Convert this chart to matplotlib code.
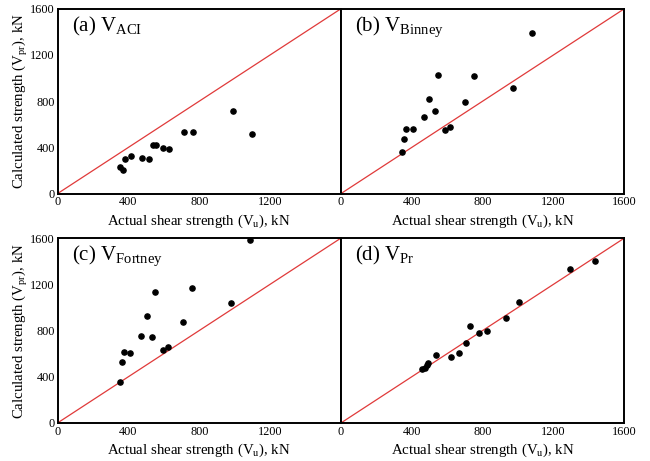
import matplotlib
matplotlib.use("Agg")
import matplotlib.pyplot as plt

plt.rcParams["font.family"] = ["Liberation Serif", "DejaVu Serif"]
plt.rcParams["mathtext.fontset"] = "custom"
plt.rcParams["mathtext.rm"] = "Liberation Serif"
plt.rcParams["mathtext.it"] = "Liberation Serif:italic"

# values (kN)
vu_aci = [353, 368, 382, 416, 479, 515, 541, 557, 598, 630, 716, 767, 989, 1096]
v_aci = [231, 208, 298, 324, 312, 298, 417, 417, 393, 388, 535, 535, 715, 515]

vu_binney = [347, 358, 370, 405, 467, 499, 533, 548, 589, 617, 703, 754, 972, 1080]
v_binney = [362, 475, 558, 558, 663, 816, 712, 1030, 553, 573, 790, 1021, 911, 1389]

vu_fortney = [350, 365, 374, 410, 470, 506, 536, 551, 594, 622, 707, 760, 978, 1087]
v_fortney = [352, 530, 614, 608, 755, 928, 744, 1136, 628, 654, 876, 1165, 1038, 1580]

vu_pr = [460, 473, 484, 492, 538, 623, 666, 707, 728, 782, 822, 934, 1004, 1294, 1437]
v_pr = [464, 479, 505, 516, 585, 571, 605, 695, 839, 781, 798, 911, 1046, 1332, 1401]

ticks = [0, 400, 800, 1200, 1600]

panels = [
    ("(a) V", "ACI", vu_aci, v_aci),
    ("(b) V", "Binney", vu_binney, v_binney),
    ("(c) V", "Fortney", vu_fortney, v_fortney),
    ("(d) V", "Pr", vu_pr, v_pr),
]

fig = plt.figure(figsize=(6.5, 4.61), dpi=100)
x_left = [0.0885, 0.5245]
w = 0.436
y_bottom = [0.580, 0.0825]
h = 0.401

for i, (label, sub, xs, ys) in enumerate(panels):
    col = i % 2
    row = i // 2
    ax = fig.add_axes([x_left[col], y_bottom[row], w, h])
    ax.plot([0, 1600], [0, 1600], color="#e03a3a", lw=0.9, zorder=1)
    ax.scatter(xs, ys, s=14, color="black", zorder=3)
    ax.set_xlim(0, 1600)
    ax.set_ylim(0, 1600)
    for sp in ax.spines.values():
        sp.set_linewidth(1.4)
        sp.set_color("black")
    ax.tick_params(length=0, labelsize=8.8, pad=2)
    if col == 0:
        ax.set_xticks(ticks[:-1])
        ax.set_yticks(ticks)
        ax.set_ylabel(r"Calculated strength (V$_{\mathrm{pr}}$), kN", fontsize=10.7, labelpad=0)
    else:
        ax.set_xticks(ticks)
        ax.set_yticks([])
    ax.set_xlabel(r"Actual shear strength (V$_{\mathrm{u}}$), kN", fontsize=10.7, labelpad=3)
    ax.text(0.05, 0.905, label + r"$_{\mathrm{" + sub + "}}$", transform=ax.transAxes,
            fontsize=15, va="center", ha="left")

fig.savefig("out.png", dpi=100)
